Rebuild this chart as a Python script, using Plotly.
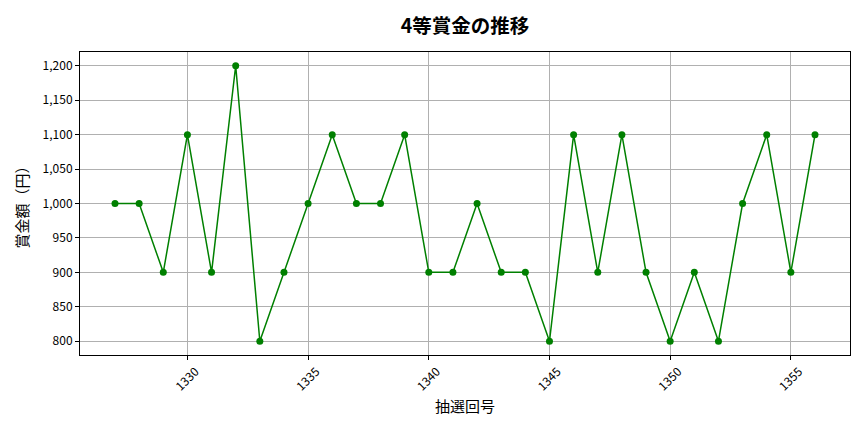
import plotly.graph_objects as go

draws = list(range(1327, 1357))
prizes = [1000, 1000, 900, 1100, 900, 1200, 800, 900, 1000, 1100,
          1000, 1000, 1100, 900, 900, 1000, 900, 900, 800, 1100,
          900, 1100, 900, 800, 900, 800, 1000, 1100, 900, 1100]
title = "4等賞金の推移"
xlabel = "抽選回号"
ylabel = "賞金額（円）"
xticks = [1330, 1335, 1340, 1345, 1350, 1355]
yticks = [800, 850, 900, 950, 1000, 1050, 1100, 1150, 1200]

font = "Noto Sans CJK JP"
fig = go.Figure()
fig.add_trace(go.Scatter(
    x=draws, y=prizes, mode="lines+markers",
    line=dict(color="green", width=1.5),
    marker=dict(color="green", size=7),
))
fig.update_layout(
    width=864, height=432,
    margin=dict(l=80, r=14, t=52, b=77),
    paper_bgcolor="white", plot_bgcolor="white",
    showlegend=False,
    font=dict(family=font, color="black"),
    title=dict(text="<b>" + title + "</b>", xref="paper", x=0.5, xanchor="center",
               y=0.94, yanchor="middle",
               font=dict(size=19.5, family=font)),
)
axis_common = dict(
    showline=True, linecolor="black", linewidth=1, mirror=True,
    showgrid=True, gridcolor="#b0b0b0", gridwidth=0.8,
    ticks="outside", ticklen=4, tickcolor="black",
    tickfont=dict(size=12, family=font), zeroline=False, automargin=False,
)
fig.update_xaxes(range=[1325.55, 1357.45], tickvals=xticks, tickangle=-45,
                 ticklabelshift=8,
                 title=dict(text=xlabel, font=dict(size=15, family=font), standoff=8),
                 **axis_common)
fig.update_yaxes(range=[780, 1220], tickvals=yticks, tickformat=",",
                 title=dict(text=ylabel, font=dict(size=15, family=font), standoff=10),
                 **axis_common)
fig.write_html("out.html", config={"displayModeBar": False},
               post_script="document.body.style.margin='0';")
